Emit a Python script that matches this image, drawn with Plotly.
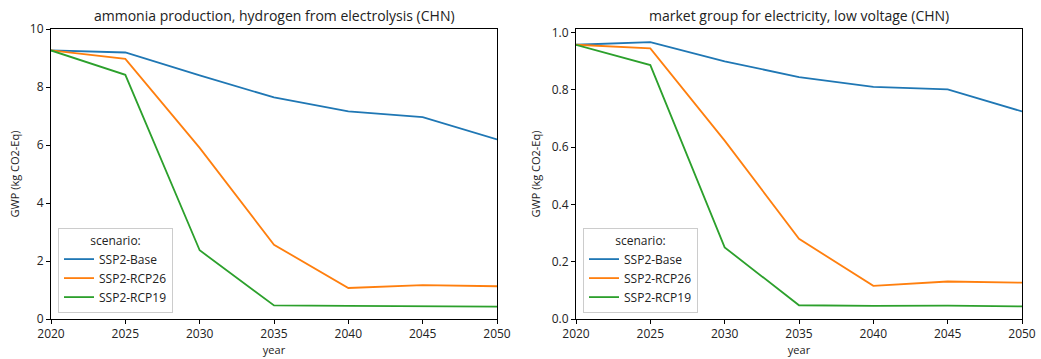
import plotly.graph_objects as go

years = [2020, 2025, 2030, 2035, 2040, 2045, 2050]
scenarios = ["SSP2-Base", "SSP2-RCP26", "SSP2-RCP19"]
colors = ["#1f77b4", "#ff7f0e", "#2ca02c"]

ammonia_base = [9.26, 9.19, 8.40, 7.64, 7.16, 6.96, 6.19]
ammonia_rcp26 = [9.26, 8.97, 5.90, 2.56, 1.07, 1.17, 1.13]
ammonia_rcp19 = [9.26, 8.42, 2.37, 0.47, 0.45, 0.45, 0.43]

elec_base = [0.958, 0.967, 0.900, 0.845, 0.811, 0.802, 0.725]
elec_rcp26 = [0.958, 0.945, 0.623, 0.280, 0.116, 0.131, 0.127]
elec_rcp19 = [0.958, 0.887, 0.250, 0.048, 0.046, 0.047, 0.044]

titles = ["ammonia production, hydrogen from electrolysis (CHN)",
          "market group for electricity, low voltage (CHN)"]

W, H = 1041, 359
FONT = "Open Sans"
TXT = "#222222"

fig = go.Figure()

panels = [
    ([ammonia_base, ammonia_rcp26, ammonia_rcp19], "x", "y", "legend"),
    ([elec_base, elec_rcp26, elec_rcp19], "x2", "y2", "legend2"),
]
for series, xa, ya, lg in panels:
    for name, vals, col in zip(scenarios, series, colors):
        fig.add_trace(go.Scatter(
            x=years, y=vals, mode="lines", name=name,
            line=dict(color=col, width=1.8),
            xaxis=xa, yaxis=ya, legend=lg, showlegend=True,
        ))

def px_x(p):
    return p / W

def px_y(p):
    return 1 - p / H

left_dom = [px_x(51), px_x(497)]
right_dom = [px_x(576), px_x(1022)]
y_dom = [px_y(319), px_y(29)]

axis_common = dict(
    showline=True, mirror=True, linecolor="black", linewidth=1,
    ticks="outside", ticklen=4, tickwidth=1, tickcolor="black",
    showgrid=False, zeroline=False, automargin=False,
    tickfont=dict(family=FONT, size=12, color=TXT),
)

def legend_cfg(xp):
    return dict(
        x=px_x(xp), y=px_y(313), xanchor="left", yanchor="bottom",
        bgcolor="rgba(255,255,255,0.85)", bordercolor="#cccccc", borderwidth=1,
        font=dict(family=FONT, size=12, color=TXT),
        title=dict(text="scenario:", side="top center", font=dict(family=FONT, size=12, color=TXT)),
        tracegroupgap=0, itemwidth=30,
    )

fig.update_layout(
    width=W, height=H,
    margin=dict(l=0, r=0, t=0, b=0, autoexpand=False),
    paper_bgcolor="white", plot_bgcolor="white",
    font=dict(family=FONT, color=TXT),
    xaxis=dict(domain=left_dom, range=[2020, 2050], tickvals=years, anchor="y",
               title=dict(text="year", font=dict(size=11, family=FONT, color=TXT), standoff=2),
               **axis_common),
    yaxis=dict(domain=y_dom, range=[0, 10], tickvals=[0, 2, 4, 6, 8, 10], anchor="x",
               title=dict(text="GWP (kg CO2-Eq)", font=dict(size=11, family=FONT, color=TXT), standoff=8),
               **axis_common),
    xaxis2=dict(domain=right_dom, range=[2020, 2050], tickvals=years, anchor="y2",
                title=dict(text="year", font=dict(size=11, family=FONT, color=TXT), standoff=2),
                **axis_common),
    yaxis2=dict(domain=y_dom, range=[0, 1.013], tickvals=[0, 0.2, 0.4, 0.6, 0.8, 1.0],
                tickformat=".1f", anchor="x2",
                title=dict(text="GWP (kg CO2-Eq)", font=dict(size=11, family=FONT, color=TXT), standoff=8),
                **axis_common),
    legend=legend_cfg(58),
    legend2=legend_cfg(583),
    annotations=[
        dict(text=titles[0], x=(left_dom[0] + left_dom[1]) / 2, y=px_y(16),
             xref="paper", yref="paper", showarrow=False, xanchor="center", yanchor="middle",
             font=dict(family=FONT, size=14, color=TXT)),
        dict(text=titles[1], x=(right_dom[0] + right_dom[1]) / 2, y=px_y(16),
             xref="paper", yref="paper", showarrow=False, xanchor="center", yanchor="middle",
             font=dict(family=FONT, size=14, color=TXT)),
    ],
)

fig.write_html("out.html")
